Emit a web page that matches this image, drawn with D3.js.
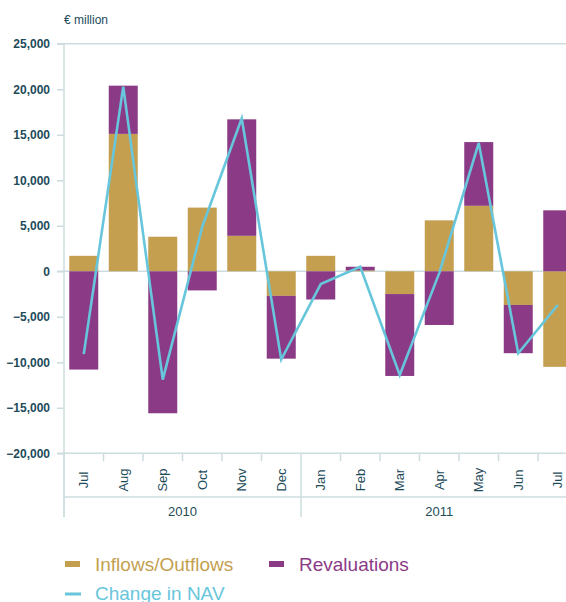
<!DOCTYPE html>
<html>
<head>
<meta charset="utf-8">
<script src="https://cdn.jsdelivr.net/npm/d3@7"></script>
<style>
  body { margin: 0; background: #fff; }
  svg { display: block; }
</style>
</head>
<body>
<div id="chart"></div>
<script>
// data (EUR million)
const months = ["Jul", "Aug", "Sep", "Oct", "Nov", "Dec", "Jan", "Feb", "Mar", "Apr", "May", "Jun", "Jul"];
const years = ["2010", "2010", "2010", "2010", "2010", "2010", "2011", "2011", "2011", "2011", "2011", "2011", "2011"];
const inflows = [1700, 15100, 3800, 7000, 3900, -2700, 1700, 100, -2500, 5600, 7200, -3700, -10500];
const revaluations = [-10800, 5300, -15600, -2100, 12800, -6900, -3100, 400, -9000, -5900, 7000, -5300, 6700];
const navChange = [-9100, 20300, -11900, 4900, 16800, -9700, -1400, 500, -11400, -200, 14100, -9000, -3700];
const yTicks = [25000, 20000, 15000, 10000, 5000, 0, -5000, -10000, -15000, -20000];

const colGold = "#c49f50";
const colPurple = "#8b3b86";
const colLine = "#68c6dc";
const colText = "#1d4b5a";
const colAxis = "#cddcdf";

const W = 566, H = 602;
const svg = d3.select("#chart").append("svg")
    .attr("width", W)
    .attr("height", H);

const rows = months.map((m, i) => ({
    key: i,
    month: m,
    year: years[i],
    inflows: inflows[i],
    revaluations: revaluations[i],
    nav: navChange[i]
}));
const keys = rows.map(d => d.key);

// scales
const left = 64, right = 577.5;
const xCell = d3.scaleBand().domain(keys).range([left, right]);
const xBar = d3.scaleBand().domain(keys).range([left, right])
    .paddingInner(0.266).paddingOuter(0.133);
const y = d3.scaleLinear().domain([-20000, 25000]).range([453.3, 43.8]);

// lines across at top, zero and bottom
svg.selectAll("line.grid")
    .data([25000, 0, -20000])
    .enter().append("line")
    .attr("class", "grid")
    .attr("x1", 57).attr("x2", W)
    .attr("y1", d => y(d)).attr("y2", d => y(d))
    .attr("stroke", colAxis)
    .attr("stroke-width", 1.5);

// y axis
const yAxis = svg.append("g")
    .attr("transform", "translate(" + left + ",0)")
    .call(d3.axisLeft(y).tickValues(yTicks).tickFormat(d3.format(",")).tickSize(7).tickPadding(7));
yAxis.select(".domain").remove();
yAxis.selectAll(".tick line").attr("stroke", colAxis).attr("stroke-width", 1.5);
yAxis.selectAll(".tick text")
    .attr("fill", colText)
    .style("font-family", "'Liberation Sans', Arial, sans-serif")
    .style("font-size", "12px")
    .style("font-weight", "bold");

// vertical axis line
svg.append("line")
    .attr("x1", left).attr("x2", left)
    .attr("y1", y(25000)).attr("y2", 517)
    .attr("stroke", colAxis)
    .attr("stroke-width", 1.5);

// stacked bars
const stack = d3.stack().keys(["inflows", "revaluations"]).offset(d3.stackOffsetDiverging);
const series = stack(rows);
const colors = { inflows: colGold, revaluations: colPurple };

svg.append("g").selectAll("g")
    .data(series)
    .enter().append("g")
    .attr("fill", s => colors[s.key])
    .selectAll("rect")
    .data(s => s)
    .enter().append("rect")
    .attr("x", d => xBar(d.data.key))
    .attr("width", xBar.bandwidth())
    .attr("y", d => y(Math.max(d[0], d[1])))
    .attr("height", d => Math.abs(y(d[0]) - y(d[1])));

// change in NAV line
const line = d3.line()
    .x(d => xCell(d.key) + xCell.bandwidth() / 2)
    .y(d => y(d.nav));

svg.append("path")
    .datum(rows)
    .attr("d", line)
    .attr("fill", "none")
    .attr("stroke", colLine)
    .attr("stroke-width", 2.6)
    .attr("stroke-linejoin", "miter");

// x axis: month ticks, month labels, year band
const axisY = y(-20000);
svg.selectAll("line.mtick")
    .data(keys.slice(1).filter(k => years[k] === years[k - 1]))
    .enter().append("line")
    .attr("class", "mtick")
    .attr("x1", d => xCell(d)).attr("x2", d => xCell(d))
    .attr("y1", axisY).attr("y2", axisY + 8)
    .attr("stroke", colAxis)
    .attr("stroke-width", 1.5);

svg.selectAll("text.month")
    .data(rows)
    .enter().append("text")
    .attr("class", "month")
    .attr("transform", d => "translate(" + (xCell(d.key) + xCell.bandwidth() / 2) + ",480) rotate(-90)")
    .attr("text-anchor", "middle")
    .attr("dy", "0.35em")
    .attr("fill", colText)
    .style("font-family", "'Liberation Sans Narrow', 'Liberation Sans', Arial, sans-serif")
    .style("font-size", "13px")
    .text(d => d.month);

svg.append("line")
    .attr("x1", left).attr("x2", W)
    .attr("y1", 497).attr("y2", 497)
    .attr("stroke", colAxis)
    .attr("stroke-width", 1.5);

const yearGroups = d3.groups(rows, d => d.year);
yearGroups.forEach(([yr, ds]) => {
    const x0 = xCell(ds[0].key);
    const x1 = xCell(ds[ds.length - 1].key) + xCell.bandwidth();
    svg.append("line")
        .attr("x1", x0).attr("x2", x0)
        .attr("y1", axisY).attr("y2", 517)
        .attr("stroke", colAxis)
        .attr("stroke-width", 1.5);
    svg.append("text")
        .attr("x", (x0 + x1) / 2)
        .attr("y", 516)
        .attr("text-anchor", "middle")
        .attr("fill", colText)
        .style("font-family", "'Liberation Sans Narrow', 'Liberation Sans', Arial, sans-serif")
        .style("font-size", "13px")
        .text(yr);
});

// unit label
svg.append("text")
    .attr("x", 64)
    .attr("y", 24)
    .attr("fill", colText)
    .style("font-family", "'Liberation Sans', Arial, sans-serif")
    .style("font-size", "12px")
    .text("€ million");

// legend
const legendFont = "'Liberation Sans', Arial, sans-serif";
const legend = [
    { label: "Inflows/Outflows", color: colGold, type: "rect", x: 65, y: 571 },
    { label: "Revaluations", color: colPurple, type: "rect", x: 269, y: 571 },
    { label: "Change in NAV", color: colLine, type: "line", x: 65, y: 600 }
];
legend.forEach(l => {
    if (l.type === "rect") {
        svg.append("rect")
            .attr("x", l.x).attr("y", l.y - 10)
            .attr("width", 15).attr("height", 6)
            .attr("fill", l.color);
    } else {
        svg.append("line")
            .attr("x1", l.x).attr("x2", l.x + 16)
            .attr("y1", l.y - 6).attr("y2", l.y - 6)
            .attr("stroke", l.color)
            .attr("stroke-width", 3);
    }
    svg.append("text")
        .attr("x", l.x + 30)
        .attr("y", l.y)
        .attr("fill", l.color)
        .style("font-family", legendFont)
        .style("font-size", "19px")
        .text(l.label);
});
</script>
</body>
</html>
